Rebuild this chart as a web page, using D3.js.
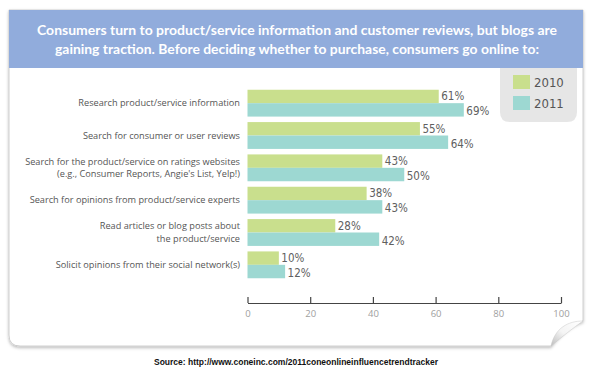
<!DOCTYPE html>
<html><head><meta charset="utf-8">
<script src="https://cdn.jsdelivr.net/npm/d3@7"></script>
<style>html,body{margin:0;padding:0;background:#fff;}svg{display:block;}</style>
</head><body>
<svg id="chart" width="600" height="378"></svg>
<script>
const categories = [
  ["Research product/service information"],
  ["Search for consumer or user reviews"],
  ["Search for the product/service on ratings websites", "(e.g., Consumer Reports, Angie's List, Yelp!)"],
  ["Search for opinions from product/service experts"],
  ["Read articles or blog posts about", "the product/service"],
  ["Solicit opinions from their social network(s)"]
];
const years = ["2010", "2011"];
const values2010 = [61, 55, 43, 38, 28, 10];
const values2011 = [69, 64, 50, 43, 42, 12];
const tickValues = [0, 20, 40, 60, 80, 100];
const titleLines = [
  "Consumers turn to product/service information and customer reviews, but blogs are",
  "gaining traction. Before deciding whether to purchase, consumers go online to:"
];
const sourceText = "Source: http://www.coneinc.com/2011coneonlineinfluencetrendtracker";

const colors = {"2010": "#c9df8d", "2011": "#9dd8d2"};
const svg = d3.select("#chart");
const defs = svg.append("defs");
const f = defs.append("filter").attr("id","sh").attr("x","-5%").attr("y","-5%").attr("width","110%").attr("height","115%");
f.append("feDropShadow").attr("dx",0).attr("dy",1.5).attr("stdDeviation",1.5).attr("flood-color","#000").attr("flood-opacity",0.28);
const g1 = defs.append("linearGradient").attr("id","curl").attr("x1","0").attr("y1","1").attr("x2","1").attr("y2","0");
g1.append("stop").attr("offset","0%").attr("stop-color","#bdbdbd");
g1.append("stop").attr("offset","45%").attr("stop-color","#f4f4f4");
g1.append("stop").attr("offset","100%").attr("stop-color","#ffffff");

// panel
const L = 9, R = 583, T = 10, B = 346;
svg.append("path")
  .attr("d", `M${L},${T}H${R}V321 C572,324 560,334 551,${B} H${L+11} Q${L},${B} ${L},${B-11} Z`)
  .attr("fill","#fff").attr("stroke","#c4c4c4").attr("stroke-width",0.8).attr("filter","url(#sh)");
// curl flap
svg.append("path")
  .attr("d", "M583,321 C568,321 555,328 551,346 C563,336 573,328 583,321 Z")
  .attr("fill","url(#curl)").attr("stroke","#c8c8c8").attr("stroke-width",0.5);

// header
svg.append("rect").attr("x",L).attr("y",T).attr("width",R-L).attr("height",58).attr("fill","#91acdc");
const titleW = [520, 484];
svg.append("g").selectAll("text").data(titleLines).join("text")
  .attr("x", 297).attr("y",(d,i)=>35+i*18.5)
  .attr("text-anchor","middle")
  .attr("textLength",(d,i)=>titleW[i]).attr("lengthAdjust","spacingAndGlyphs")
  .attr("font-family","Lato,'Open Sans',sans-serif")
  .attr("font-weight","bold").attr("font-size",14).attr("fill","#fff")
  .text(d=>d);

// legend box
svg.append("path")
  .attr("d","M500,68 H577 V112 Q577,122 567,122 H510 Q500,122 500,112 Z")
  .attr("fill","#e6e6e6");
const leg = svg.append("g").selectAll("g").data(years).join("g")
  .attr("transform",(d,i)=>`translate(513,${75+i*21})`);
leg.append("rect").attr("width",17).attr("height",14).attr("fill",d=>colors[d]);
leg.append("text").attr("x",21).attr("y",12).text(d=>d)
  .attr("font-family","'DejaVu Sans Condensed',sans-serif")
  .attr("font-size",13).attr("fill","#555");

// scales
const x = d3.scaleLinear().domain([0,100]).range([247.5,561]);
const y = d3.scaleBand().domain(d3.range(categories.length)).range([87,281]).paddingInner(0.17).paddingOuter(0.085);
const yIn = d3.scaleBand().domain(years).range([0,y.bandwidth()]);

const groups = svg.append("g").selectAll("g").data(categories.map((c,i)=>({c, i, vals:[values2010[i], values2011[i]]})))
  .join("g").attr("transform",d=>`translate(0,${y(d.i)})`);

groups.selectAll("rect").data(d=>d.vals.map((v,k)=>({v, yr: years[k]}))).join("rect")
  .attr("x", x(0)).attr("y", d=>yIn(d.yr)).attr("width", d=>x(d.v)-x(0)).attr("height", yIn.bandwidth())
  .attr("fill", d=>colors[d.yr]);

groups.selectAll("text.val").data(d=>d.vals.map((v,k)=>({v, yr: years[k]}))).join("text")
  .attr("class","val")
  .attr("x", d=>x(d.v)+2.5).attr("y", d=>yIn(d.yr)+yIn.bandwidth()/2+(d.yr==="2010"?4:5.5))
  .attr("font-family","'DejaVu Sans Condensed',sans-serif")
  .attr("font-size",11.5).attr("fill","#606060")
  .text(d=>d.v+"%");

// category labels
groups.each(function(d){
  const n = d.c.length;
  d.c.forEach((line,k)=>{
    d3.select(this).append("text")
      .attr("text-anchor","end").attr("font-family","'Open Sans',sans-serif")
      .attr("font-size",9.2).attr("fill","#555")
      .attr("x",240)
      .attr("y", y.bandwidth()/2 + 3.3 + (k-(n-1)/2)*12.6)
      .text(line);
  });
});

// axis
const ax = svg.append("g").attr("transform","translate(0,303)")
  .call(d3.axisBottom(x).tickValues(tickValues).tickSizeInner(-6).tickSizeOuter(0).tickPadding(7));
ax.select(".domain").attr("stroke","#444").attr("stroke-width",1.2);
ax.selectAll(".tick line").attr("stroke","#444").attr("stroke-width",1.2);
ax.selectAll(".tick text").attr("fill","#a0a0a0").attr("font-size",9.5).attr("font-family","'Open Sans',sans-serif");

// source
svg.append("text").attr("x",296).attr("y",365).attr("text-anchor","middle")
  .attr("font-family","'Liberation Sans',Arial,sans-serif").attr("font-weight","bold")
  .attr("font-size",8.5).attr("fill","#111")
  .attr("textLength",284).attr("lengthAdjust","spacingAndGlyphs")
  .text(sourceText);
</script>
</body></html>
